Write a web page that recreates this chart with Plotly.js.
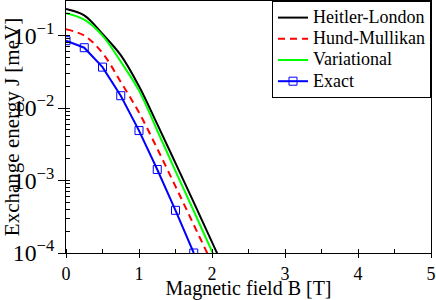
<!DOCTYPE html>
<html>
<head>
<meta charset="utf-8">
<script src="https://cdn.plot.ly/plotly-3.0.1.min.js"></script>
<style>html,body{margin:0;padding:0;background:#fff;}#chart{width:436px;height:300px;}</style>
</head>
<body>
<div id="chart"></div>
<script>
// Magnetic field B [T]
const bTheory = [0, 0.25, 0.5, 0.75, 1.0, 1.25, 1.5, 1.75, 2.0, 2.25];
const heitlerLondon = [0.233, 0.19, 0.105, 0.0537, 0.020, 0.0060, 0.00174, 5.0e-4, 1.41e-4, 4.0e-5];
const variational   = [0.204, 0.166, 0.100, 0.0437, 0.0174, 0.0049, 0.00135, 3.8e-4, 1.05e-4, 2.95e-5];
const bHund = [0, 0.25, 0.5, 0.75, 1.0, 1.25, 1.5, 1.75, 2.0, 2.25];
const hundMulliken  = [0.122, 0.100, 0.0575, 0.0229, 0.0087, 0.00275, 8.3e-4, 2.45e-4, 7.2e-5, 2.0e-5];
const bExact = [0, 0.25, 0.5, 0.75, 1.0, 1.25, 1.5, 1.75];
const exact = [0.085, 0.068, 0.0367, 0.0148, 0.00489, 0.00142, 3.88e-4, 1.0e-4];
const seriesNames = ["Heitler-London", "Hund-Mullikan", "Variational", "Exact"];
const xTicks = [0, 1, 2, 3, 4, 5];

const font = "'Liberation Serif', 'Times New Roman', serif";
const big = s => '<span style="font-size:18px">' + s + '</span>';
const traces = [
  {x: bTheory, y: heitlerLondon, name: big(seriesNames[0]), mode: "lines",
   line: {color: "#000000", width: 2, shape: "spline"}},
  {x: bHund, y: hundMulliken, name: big(seriesNames[1]), mode: "lines",
   line: {color: "#ff0000", width: 2, dash: "7px,5px", shape: "spline"}},
  {x: bTheory, y: variational, name: big(seriesNames[2]), mode: "lines",
   line: {color: "#00ff00", width: 2, shape: "spline"}},
  {x: bExact, y: exact, name: big(seriesNames[3]), mode: "lines+markers",
   line: {color: "#0000ff", width: 2},
   marker: {symbol: "square-open", size: 8, color: "#0000ff", line: {width: 1, color: "#0000ff"}}}
];

const layout = {
  width: 436, height: 300,
  margin: {l: 66, r: 5, t: 1, b: 47},
  paper_bgcolor: "#ffffff", plot_bgcolor: "#ffffff",
  font: {family: font, size: 19, color: "#000"},
  showlegend: true,
  legend: {x: 1, xanchor: "right", y: 1, yanchor: "top",
           bgcolor: "#ffffff", bordercolor: "#000000", borderwidth: 1,
           font: {family: font, size: 14, color: "#000"}, tracegroupgap: 0, itemwidth: 30},
  xaxis: {range: [0, 5], tickvals: xTicks, ticks: "outside", ticklen: 4, tickcolor: "#000",
          showline: true, linecolor: "#000", linewidth: 1, mirror: true, showgrid: false, zeroline: false,
          automargin: true,
          tickfont: {family: font, size: 18, color: "#000"},
          minor: {dtick: 0.5, ticks: "inside", ticklen: 4, tickcolor: "#000", showgrid: false},
          title: {text: "Magnetic field B [T]", font: {family: font, size: 20, color: "#000"}, standoff: 0}},
  yaxis: {type: "log", range: [-4, -0.523], dtick: 1, exponentformat: "power",
          ticks: "outside", ticklen: 7, tickcolor: "#000",
          showline: true, linecolor: "#000", linewidth: 1, mirror: true, showgrid: false, zeroline: false,
          tickfont: {family: font, size: 19, color: "#000"},
          minor: {dtick: "D1", ticks: "inside", ticklen: 4, tickcolor: "#000", showgrid: false},
          title: {text: "Exchange energy J [meV]", font: {family: font, size: 21, color: "#000"}, standoff: 3}}
};

Plotly.newPlot("chart", traces, layout, {staticPlot: true, displayModeBar: false});
</script>
</body>
</html>
